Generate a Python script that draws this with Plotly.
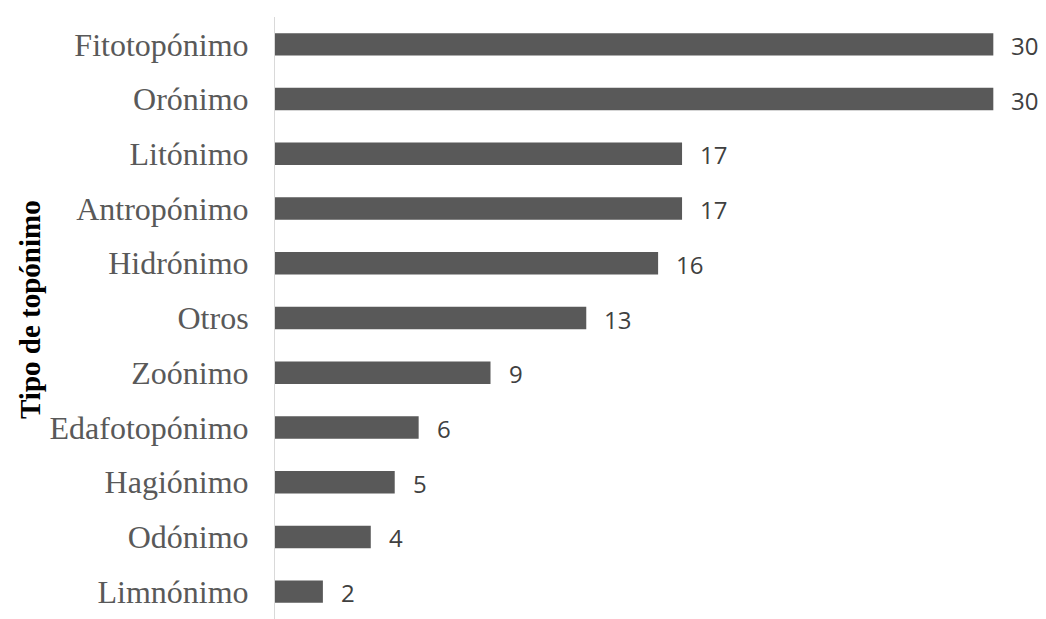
import plotly.graph_objects as go

categories = ["Fitotopónimo", "Orónimo", "Litónimo", "Antropónimo", "Hidrónimo",
              "Otros", "Zoónimo", "Edafotopónimo", "Hagiónimo", "Odónimo", "Limnónimo"]
values = [30, 30, 17, 17, 16, 13, 9, 6, 5, 4, 2]
axis_title = "Tipo de topónimo"

W, H = 1038, 611
ml, mr, mt, mb = 267, 0, 9, 0
xmax = 32.2

fig = go.Figure()
fig.add_trace(go.Bar(
    x=values, y=categories, orientation="h",
    marker=dict(color="#595959", line=dict(width=0)),
    hoverinfo="skip",
))

for c, v in zip(categories, values):
    fig.add_annotation(x=v, y=c, xref="x", yref="y", text=str(v),
                       showarrow=False, xanchor="left", xshift=16, yshift=-1,
                       font=dict(family="Open Sans", size=24, color="#404040"))

plot_w = W - ml - mr
fig.add_annotation(x=-(ml - 22) / plot_w, y=0.5, xref="paper", yref="paper",
                   text=f"<b>{axis_title}</b>", textangle=-90, showarrow=False,
                   xanchor="center", yanchor="middle", yshift=8,
                   font=dict(family="Liberation Serif", size=29, color="#000000"))

fig.update_layout(
    width=W, height=H,
    margin=dict(l=ml, r=mr, t=mt, b=mb, pad=0),
    paper_bgcolor="white", plot_bgcolor="white",
    bargap=0.59, showlegend=False,
    xaxis=dict(range=[0, xmax], visible=False, showgrid=False, zeroline=False),
    yaxis=dict(autorange="reversed", showgrid=False, zeroline=False,
               showline=True, linecolor="#d9d9d9", linewidth=1,
               ticks="", ticklabelstandoff=19,
               tickfont=dict(family="Liberation Serif", size=32, color="#595959")),
)

fig.write_html("out.html")
